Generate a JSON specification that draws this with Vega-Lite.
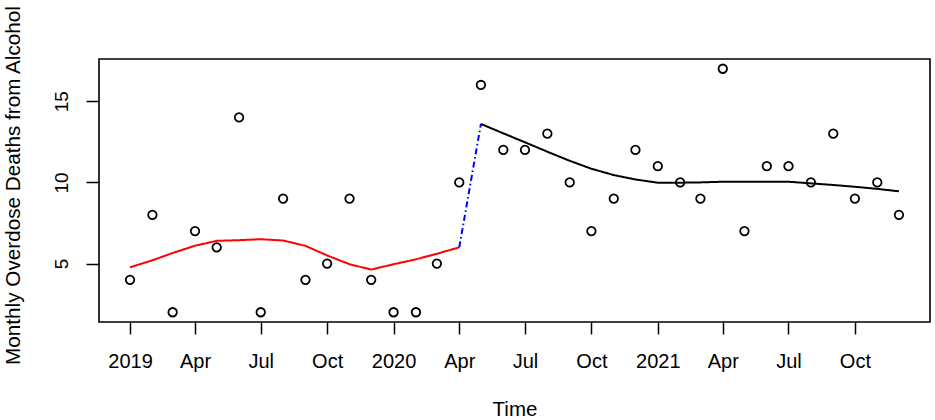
{
  "$schema": "https://vega.github.io/schema/vega-lite/v6.json",
  "autosize": {"type": "none"},
  "width": 831,
  "height": 263,
  "padding": {"left": 99, "top": 59, "right": 5, "bottom": 98},
  "background": "white",
  "config": {
    "font": "Liberation Sans",
    "view": {"stroke": "black", "strokeWidth": 1.6},
    "axis": {"grid": false, "domain": false, "tickColor": "black", "tickWidth": 1.5, "labelColor": "black", "titleColor": "black", "titleFontWeight": "normal", "labelFont": "Liberation Sans", "titleFont": "Liberation Sans"}
  },
  "datasets": {
    "obs": [
      {"month": "2019-01-01", "deaths": 4},
      {"month": "2019-02-01", "deaths": 8},
      {"month": "2019-03-01", "deaths": 2},
      {"month": "2019-04-01", "deaths": 7},
      {"month": "2019-05-01", "deaths": 6},
      {"month": "2019-06-01", "deaths": 14},
      {"month": "2019-07-01", "deaths": 2},
      {"month": "2019-08-01", "deaths": 9},
      {"month": "2019-09-01", "deaths": 4},
      {"month": "2019-10-01", "deaths": 5},
      {"month": "2019-11-01", "deaths": 9},
      {"month": "2019-12-01", "deaths": 4},
      {"month": "2020-01-01", "deaths": 2},
      {"month": "2020-02-01", "deaths": 2},
      {"month": "2020-03-01", "deaths": 5},
      {"month": "2020-04-01", "deaths": 10},
      {"month": "2020-05-01", "deaths": 16},
      {"month": "2020-06-01", "deaths": 12},
      {"month": "2020-07-01", "deaths": 12},
      {"month": "2020-08-01", "deaths": 13},
      {"month": "2020-09-01", "deaths": 10},
      {"month": "2020-10-01", "deaths": 7},
      {"month": "2020-11-01", "deaths": 9},
      {"month": "2020-12-01", "deaths": 12},
      {"month": "2021-01-01", "deaths": 11},
      {"month": "2021-02-01", "deaths": 10},
      {"month": "2021-03-01", "deaths": 9},
      {"month": "2021-04-01", "deaths": 17},
      {"month": "2021-05-01", "deaths": 7},
      {"month": "2021-06-01", "deaths": 11},
      {"month": "2021-07-01", "deaths": 11},
      {"month": "2021-08-01", "deaths": 10},
      {"month": "2021-09-01", "deaths": 13},
      {"month": "2021-10-01", "deaths": 9},
      {"month": "2021-11-01", "deaths": 10},
      {"month": "2021-12-01", "deaths": 8}
    ],
    "fit": [
      {"month": "2019-01-01", "fitted": 4.77, "series": "pre"},
      {"month": "2019-02-01", "fitted": 5.2, "series": "pre"},
      {"month": "2019-03-01", "fitted": 5.65, "series": "pre"},
      {"month": "2019-04-01", "fitted": 6.1, "series": "pre"},
      {"month": "2019-05-01", "fitted": 6.4, "series": "pre"},
      {"month": "2019-06-01", "fitted": 6.44, "series": "pre"},
      {"month": "2019-07-01", "fitted": 6.5, "series": "pre"},
      {"month": "2019-08-01", "fitted": 6.42, "series": "pre"},
      {"month": "2019-09-01", "fitted": 6.09, "series": "pre"},
      {"month": "2019-10-01", "fitted": 5.5, "series": "pre"},
      {"month": "2019-11-01", "fitted": 4.96, "series": "pre"},
      {"month": "2019-12-01", "fitted": 4.63, "series": "pre"},
      {"month": "2020-01-01", "fitted": 4.96, "series": "pre"},
      {"month": "2020-02-01", "fitted": 5.26, "series": "pre"},
      {"month": "2020-03-01", "fitted": 5.6, "series": "pre"},
      {"month": "2020-04-01", "fitted": 6.0, "series": "pre"},
      {"month": "2020-04-01", "fitted": 6.0, "series": "jump"},
      {"month": "2020-05-01", "fitted": 13.6, "series": "jump"},
      {"month": "2020-05-01", "fitted": 13.6, "series": "post"},
      {"month": "2020-06-01", "fitted": 13.02, "series": "post"},
      {"month": "2020-07-01", "fitted": 12.47, "series": "post"},
      {"month": "2020-08-01", "fitted": 11.89, "series": "post"},
      {"month": "2020-09-01", "fitted": 11.33, "series": "post"},
      {"month": "2020-10-01", "fitted": 10.84, "series": "post"},
      {"month": "2020-11-01", "fitted": 10.45, "series": "post"},
      {"month": "2020-12-01", "fitted": 10.18, "series": "post"},
      {"month": "2021-01-01", "fitted": 9.98, "series": "post"},
      {"month": "2021-02-01", "fitted": 9.98, "series": "post"},
      {"month": "2021-03-01", "fitted": 10.0, "series": "post"},
      {"month": "2021-04-01", "fitted": 10.04, "series": "post"},
      {"month": "2021-05-01", "fitted": 10.04, "series": "post"},
      {"month": "2021-06-01", "fitted": 10.04, "series": "post"},
      {"month": "2021-07-01", "fitted": 10.04, "series": "post"},
      {"month": "2021-08-01", "fitted": 9.94, "series": "post"},
      {"month": "2021-09-01", "fitted": 9.84, "series": "post"},
      {"month": "2021-10-01", "fitted": 9.73, "series": "post"},
      {"month": "2021-11-01", "fitted": 9.6, "series": "post"},
      {"month": "2021-12-01", "fitted": 9.45, "series": "post"}
    ]
  },
  "encoding": {
    "x": {
      "field": "month",
      "type": "temporal",
      "scale": {
        "type": "utc",
        "domain": [
          {"year": 2018, "month": 11, "date": 19, "utc": true},
          {"year": 2022, "month": 1, "date": 13, "utc": true}
        ],
        "nice": false
      },
      "axis": {
        "title": "Time",
        "values": [
          {"year": 2019, "month": 1, "date": 1, "utc": true},
          {"year": 2019, "month": 4, "date": 1, "utc": true},
          {"year": 2019, "month": 7, "date": 1, "utc": true},
          {"year": 2019, "month": 10, "date": 1, "utc": true},
          {"year": 2020, "month": 1, "date": 1, "utc": true},
          {"year": 2020, "month": 4, "date": 1, "utc": true},
          {"year": 2020, "month": 7, "date": 1, "utc": true},
          {"year": 2020, "month": 10, "date": 1, "utc": true},
          {"year": 2021, "month": 1, "date": 1, "utc": true},
          {"year": 2021, "month": 4, "date": 1, "utc": true},
          {"year": 2021, "month": 7, "date": 1, "utc": true},
          {"year": 2021, "month": 10, "date": 1, "utc": true}
        ],
        "labelExpr": "utcmonth(datum.value) == 0 ? utcFormat(datum.value, '%Y') : utcFormat(datum.value, '%b')",
        "tickSize": 12,
        "labelFontSize": 20,
        "labelBaseline": "alphabetic",
        "labelPadding": 33,
        "labelFlush": false,
        "labelOverlap": false,
        "titleFontSize": 20.5,
        "titleBaseline": "alphabetic",
        "titleY": 93
      }
    }
  },
  "layer": [
    {
      "data": {"name": "obs"},
      "mark": {"type": "point", "shape": "circle", "filled": false, "color": "black", "size": 72, "strokeWidth": 1.8, "opacity": 1},
      "encoding": {
        "y": {
          "field": "deaths",
          "type": "quantitative",
          "scale": {"domain": [1.4, 17.6], "nice": false, "zero": false},
          "axis": {
            "title": "Monthly Overdose Deaths from Alcohol",
            "values": [5, 10, 15],
            "tickSize": 13,
            "labelFontSize": 19,
            "labelAngle": -90,
            "labelAlign": "center",
            "labelBaseline": "alphabetic",
            "labelPadding": 19,
            "titleFontSize": 20.7,
            "titleAngle": -90,
            "titleBaseline": "alphabetic",
            "titleAlign": "center",
            "titleX": -80,
            "titleY": 126
          }
        }
      }
    },
    {
      "data": {"name": "fit"},
      "mark": {"type": "line", "strokeWidth": 2},
      "encoding": {
        "y": {"field": "fitted", "type": "quantitative"},
        "color": {
          "field": "series",
          "type": "nominal",
          "scale": {"domain": ["pre", "jump", "post"], "range": ["#ff0000", "#0000ff", "#000000"]},
          "legend": null
        },
        "strokeDash": {
          "field": "series",
          "type": "nominal",
          "scale": {"domain": ["pre", "jump", "post"], "range": [[1, 0], [6, 3, 1.5, 3], [1, 0]]},
          "legend": null
        }
      }
    }
  ]
}
